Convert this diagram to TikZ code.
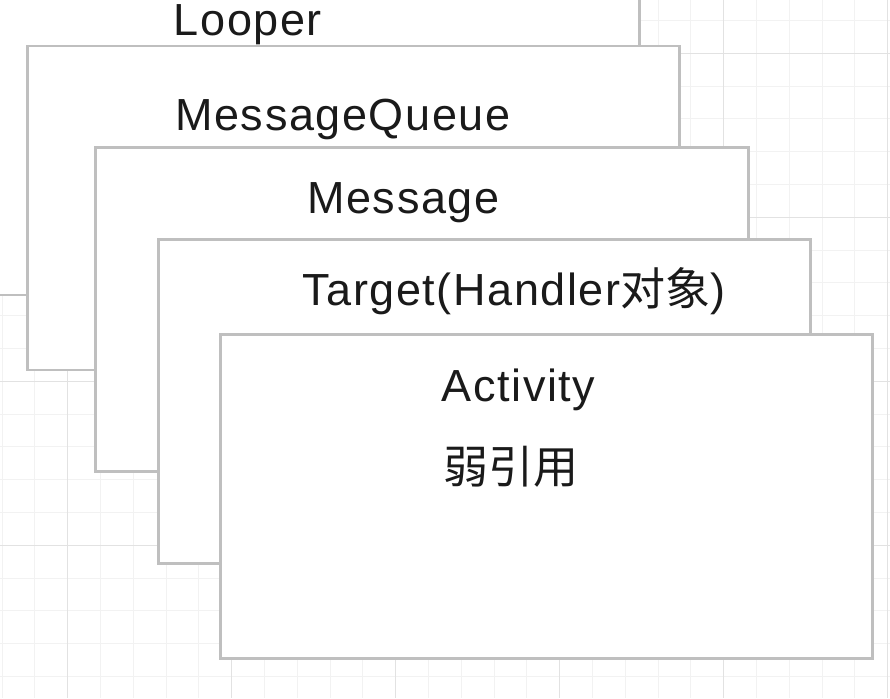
\documentclass[tikz,border=0pt]{standalone}
\usepackage{fontspec}
\setmainfont[LetterSpace=3.5]{Liberation Sans}
\newfontfamily\cjk{Noto Sans CJK SC}
\definecolor{boxline}{HTML}{BFBFBF}
\definecolor{gridminor}{HTML}{F2F2F2}
\definecolor{gridmajor}{HTML}{E2E2E2}
\definecolor{ink}{HTML}{1A1A1A}
\tikzset{my box/.style={draw=boxline, line width=1.5pt, fill=white, inner sep=0pt, minimum width=13.05cm, minimum height=6.48cm},
my label/.style={anchor=base west, inner sep=0pt, text=ink, font=\fontsize{25.6}{30}\selectfont},
minor line/.style={draw=gridminor, line width=0.55pt},
major line/.style={draw=gridmajor, line width=0.7pt},}

\begin{document}
\begin{tikzpicture}
\useasboundingbox (0,0) rectangle (17.8,-13.96);
% background grid
\foreach \k in {0,...,27} \draw [minor line] ({0.042+0.656*\k},0) -- ++(0,-13.96);
\foreach \k in {0,...,20} \draw [minor line] (0,{-0.41-0.656*\k}) -- ++(17.8,0);
\foreach \x in {1.354,4.634,7.914,11.194,14.474,17.754} \draw [major line] (\x,0) -- ++(0,-13.96);
\foreach \y in {-1.066,-4.346,-7.626,-10.906} \draw [major line] (0,\y) -- ++(17.8,0);
% stacked boxes, back to front
\node [my box] (looper) at (  6.270000, -2.660000) {};
\node [my label] (looper text) at (  3.470000, -0.700000) {Looper};
\node [my box] (queue) at (  7.070000, -4.160000) {};
\node [my label] (queue text) at (  3.500000, -2.600000) {MessageQueue};
\node [my box] (message) at (  8.440000, -6.190000) {};
\node [my label] (message text) at (  6.140000, -4.270000) {Message};
\node [my box] (target) at (  9.690000, -8.030000) {};
\node [my label] (target text) at (  6.040000, -6.100000) {Target(Handler{\cjk 对象})};
\node [my box] (activity) at ( 10.930000, -9.930000) {};
\node [my label] (activity text) at (  8.830000, -8.030000) {Activity};
\node [my label] (weak text) at (  8.860000, -9.660000) {\cjk 弱引用};
\end{tikzpicture}
\end{document}
